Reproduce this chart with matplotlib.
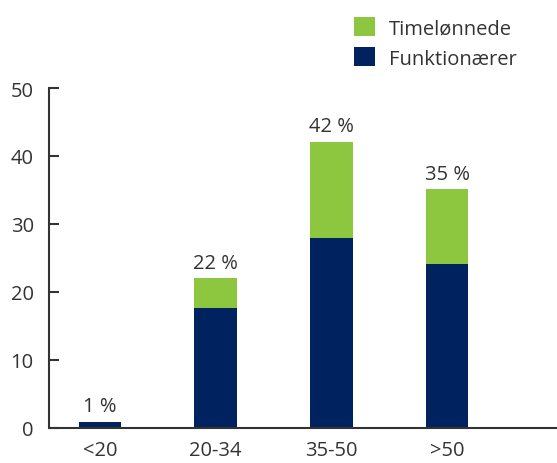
import matplotlib.pyplot as plt
import numpy as np

kategorier = ["<20", "20-34", "35-50", ">50"]
funktionaerer = [0.9, 17.6, 28.0, 24.1]
timeloennede = [0.0, 4.4, 14.1, 11.0]
etiketter = ["1 %", "22 %", "42 %", "35 %"]

groen = "#8DC63F"
blaa = "#00235F"
tekst = "#333333"

plt.rcParams['font.family'] = ['Open Sans', 'DejaVu Sans']

fig = plt.figure(figsize=(5.57, 4.64), dpi=100)
ax = fig.add_axes([49/557, 35/464, 508/557, 340/464])

x = np.arange(len(kategorier))
b1 = ax.bar(x, funktionaerer, width=0.37, color=blaa, label="Funktionærer")
b2 = ax.bar(x, timeloennede, width=0.37, bottom=funktionaerer, color=groen, label="Timelønnede")

total = np.array(funktionaerer) + np.array(timeloennede)
for i, t in enumerate(total):
    ax.text(x[i], t + 0.8, etiketter[i], ha='center', va='bottom', fontsize=14.5, color=tekst)

ax.set_xlim(-0.44, 3.95)
ax.set_ylim(0, 50)
ax.set_yticks([0, 10, 20, 30, 40, 50])
ax.set_xticks(x)
ax.set_xticklabels(kategorier)
ax.tick_params(axis='y', direction='in', length=7, width=1.5, color=tekst, labelsize=14.5, labelcolor=tekst, pad=11)
ax.tick_params(axis='x', bottom=False, labelsize=14.5, labelcolor=tekst, pad=5)
for s in ['top', 'right']:
    ax.spines[s].set_visible(False)
for s in ['left', 'bottom']:
    ax.spines[s].set_color(tekst)
    ax.spines[s].set_linewidth(1.5)
ax.spines['bottom'].set_capstyle('butt')

fig.legend([b2, b1], ["Timelønnede", "Funktionærer"], loc='upper left', bbox_to_anchor=(336/557, 1.0),
           frameon=False, fontsize=14.5, handlelength=1.05, handleheight=1.05, labelcolor=tekst,
           handletextpad=0.7, labelspacing=0.45, borderaxespad=0.5)

fig.savefig("out.png", dpi=100)
